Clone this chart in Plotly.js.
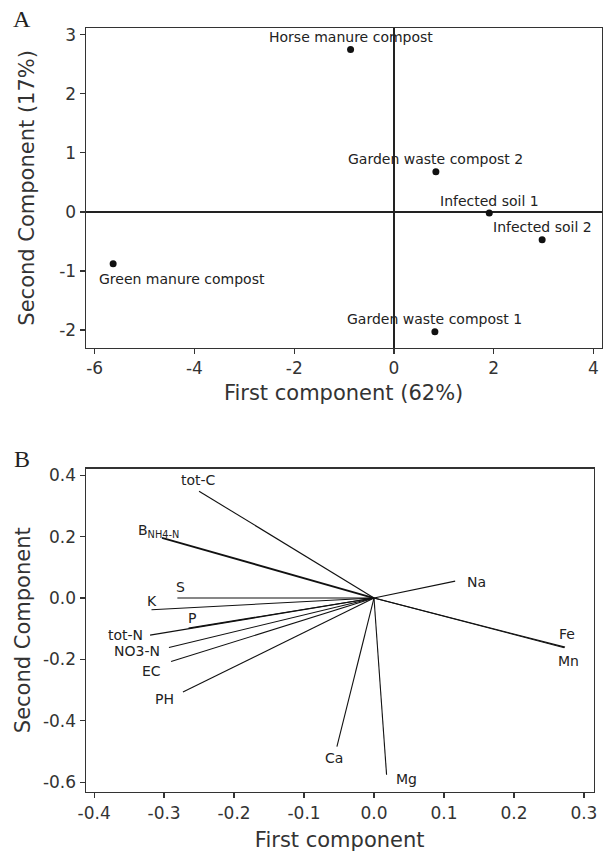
<!DOCTYPE html>
<html>
<head>
<meta charset="utf-8">
<script src="https://cdn.plot.ly/plotly-3.0.1.min.js"></script>
<style>html,body{margin:0;padding:0;background:#fff;}#chart{width:606px;height:854px;}</style>
</head>
<body>
<div id="chart"></div>
<script>
// Panel A: sample scores
var sampleNames = ["Horse manure compost", "Garden waste compost 2", "Infected soil 1", "Infected soil 2", "Green manure compost", "Garden waste compost 1"];
var pc1Scores = [-0.87, 0.84, 1.91, 2.97, -5.63, 0.82];
var pc2Scores = [2.75, 0.68, -0.02, -0.47, -0.88, -2.03];

// Panel B: variable loadings
var variableNames = ["tot-C", "B<sub>NH4-N</sub>", "S", "K", "P", "tot-N", "NO3-N", "EC", "PH", "Ca", "Mg", "Na", "Fe", "Mn"];
var loadingPC1 = [-0.250, -0.303, -0.281, -0.318, -0.265, -0.320, -0.293, -0.290, -0.273, -0.053, 0.018, 0.116, 0.273, 0.272];
var loadingPC2 = [0.348, 0.196, 0.000, -0.038, -0.098, -0.121, -0.161, -0.207, -0.306, -0.484, -0.576, 0.055, -0.160, -0.162];

var axisTicksA_x = [-6, -4, -2, 0, 2, 4];
var axisTicksA_y = [-2, -1, 0, 1, 2, 3];
var axisTicksB_x = [-0.4, -0.3, -0.2, -0.1, 0.0, 0.1, 0.2, 0.3];
var axisTicksB_y = [-0.6, -0.4, -0.2, 0.0, 0.2, 0.4];

// label placement (pixel offsets) -- layout only
var sampleLabelPos = {
  "Green manure compost": {dx: -16, dy: -15, xanchor: "left"}
};
var varLabelPos = {
  "tot-C": {dx: -1, dy: 11, xanchor: "center"},
  "B<sub>NH4-N</sub>": {dx: 19, dy: 7, xanchor: "right"},
  "S": {dx: 3, dy: 11, xanchor: "center"},
  "K": {dx: 1, dy: 9, xanchor: "center"},
  "P": {dx: 3, dy: 10, xanchor: "center"},
  "tot-N": {dx: -5, dy: 0, xanchor: "right"},
  "NO3-N": {dx: -7, dy: -4, xanchor: "right"},
  "EC": {dx: -8, dy: -9, xanchor: "right"},
  "PH": {dx: -7, dy: -7, xanchor: "right"},
  "Ca": {dx: -3, dy: -11, xanchor: "center"},
  "Mg": {dx: 7, dy: -4, xanchor: "left"},
  "Na": {dx: 10, dy: -1, xanchor: "left"},
  "Fe": {dx: 2, dy: 13, xanchor: "center"},
  "Mn": {dx: 4, dy: -13, xanchor: "center"}
};

function hyphenLabels(vals, dec) {
  return vals.map(function (v) { return (dec ? v.toFixed(dec) : String(v)).replace("\u2212", "-"); });
}

var textColor = "#222";
var labelFont = {family: "DejaVu Sans", size: 14, color: textColor};
var tickFont = {family: "DejaVu Sans", size: 17, color: "#333"};
var titleFont = {family: "DejaVu Sans", size: 21, color: "#333"};

var traces = [];
traces.push({
  type: "scatter", mode: "markers", x: pc1Scores, y: pc2Scores,
  xaxis: "x", yaxis: "y",
  marker: {color: "#111", size: 7}, hoverinfo: "text", text: sampleNames
});
for (var i = 0; i < variableNames.length; i++) {
  var w = (variableNames[i].indexOf("NH4") >= 0) ? 1.8 : 1.1;
  traces.push({
    type: "scatter", mode: "lines",
    x: [0, loadingPC1[i]], y: [0, loadingPC2[i]],
    xaxis: "x2", yaxis: "y2",
    line: {color: "#111", width: w}, hoverinfo: "skip"
  });
}

var annotations = [];
for (var j = 0; j < sampleNames.length; j++) {
  var p = sampleLabelPos[sampleNames[j]] || {dx: 0, dy: 12.5, xanchor: "center"};
  annotations.push({
    xref: "x", yref: "y", x: pc1Scores[j], y: pc2Scores[j],
    text: sampleNames[j], showarrow: false, xanchor: p.xanchor, yanchor: "middle",
    xshift: p.dx, yshift: p.dy, font: labelFont
  });
}
for (var k = 0; k < variableNames.length; k++) {
  var q = varLabelPos[variableNames[k]];
  annotations.push({
    xref: "x2", yref: "y2", x: loadingPC1[k], y: loadingPC2[k],
    text: variableNames[k], showarrow: false, xanchor: q.xanchor, yanchor: "middle",
    xshift: q.dx, yshift: q.dy, font: labelFont
  });
}
annotations.push({xref: "paper", yref: "paper", x: 22/606, y: 1 - 19/854, text: "A", showarrow: false,
  xanchor: "center", yanchor: "middle", font: {family: "Liberation Serif", size: 24, color: "#222"}});
annotations.push({xref: "paper", yref: "paper", x: 22/606, y: 1 - 459/854, text: "B", showarrow: false,
  xanchor: "center", yanchor: "middle", font: {family: "Liberation Serif", size: 24, color: "#222"}});

var baseAxis = {
  showgrid: false, showline: true, mirror: true, linecolor: "#333", linewidth: 1.2,
  ticks: "outside", ticklen: 5, tickcolor: "#333", tickwidth: 1.2, tickfont: tickFont,
  automargin: false, tickmode: "array"
};
function ax(extra) { var o = {}; for (var a in baseAxis) o[a] = baseAxis[a]; for (var b in extra) o[b] = extra[b]; return o; }

var layout = {
  width: 606, height: 854, margin: {l: 0, r: 0, t: 0, b: 0},
  paper_bgcolor: "#fff", plot_bgcolor: "#fff", showlegend: false,
  xaxis: ax({domain: [85.7/606, 601.5/606], anchor: "y", range: [-6.18, 4.16],
    tickvals: axisTicksA_x, ticktext: hyphenLabels(axisTicksA_x, 0),
    zeroline: true, zerolinecolor: "#222", zerolinewidth: 1.2,
    title: {text: "First component (62%)", font: titleFont, standoff: 8}}),
  yaxis: ax({domain: [1 - 347.7/854, 1 - 28/854], anchor: "x", range: [-2.30, 3.115],
    tickvals: axisTicksA_y, ticktext: hyphenLabels(axisTicksA_y, 0),
    zeroline: true, zerolinecolor: "#222", zerolinewidth: 1.2,
    title: {text: "Second Component (17%)", font: titleFont, standoff: 18}}),
  xaxis2: ax({domain: [85.7/606, 593.7/606], anchor: "y2", range: [-0.412, 0.314],
    tickvals: axisTicksB_x, ticktext: hyphenLabels(axisTicksB_x, 1), zeroline: false,
    title: {text: "First component", font: titleFont, standoff: 10}}),
  yaxis2: ax({domain: [1 - 792/854, 1 - 468.5/854], anchor: "x2", range: [-0.632, 0.422],
    tickvals: axisTicksB_y, ticktext: hyphenLabels(axisTicksB_y, 1), zeroline: false,
    title: {text: "Second Component", font: titleFont, standoff: 6}}),
  annotations: annotations
};

Plotly.newPlot("chart", traces, layout, {staticPlot: true, displayModeBar: false});
</script>
</body>
</html>
